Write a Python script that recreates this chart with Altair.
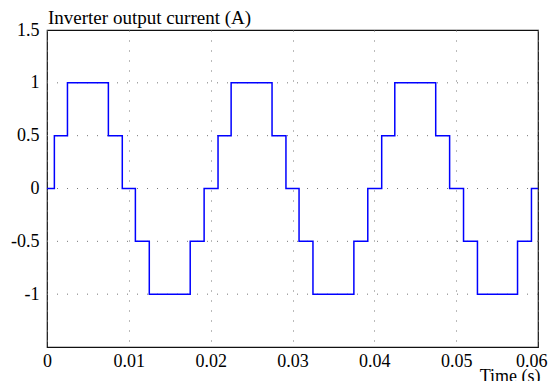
import altair as alt
import pandas as pd

times = [0, 0.0009, 0.0025, 0.0075, 0.0092, 0.0108, 0.0125, 0.0175, 0.0192,
         0.0209, 0.0225, 0.0275, 0.0292, 0.0308, 0.0325, 0.0375, 0.0392,
         0.0409, 0.0425, 0.0475, 0.0492, 0.0509, 0.0526, 0.0575, 0.0592, 0.06]
current = [0, 0.5, 1, 0.5, 0, -0.5, -1, -0.5, 0,
           0.5, 1, 0.5, 0, -0.5, -1, -0.5, 0,
           0.5, 1, 0.5, 0, -0.5, -1, -0.5, 0, 0]
x_ticks = [0, 0.01, 0.02, 0.03, 0.04, 0.05, 0.06]
y_ticks = [-1, -0.5, 0, 0.5, 1, 1.5]
y_grid = [-1, -0.5, 0, 0.5, 1]

df = pd.DataFrame({"t": times, "i": current})
FONT = "'Liberation Serif', 'Times New Roman', Times, serif"
last_test = "datum.value >= 0.0599"

line = alt.Chart(df).mark_line(
    interpolate="step-after", color="#0000ff", strokeWidth=1.5, clip=True
).encode(
    x=alt.X("t:Q", scale=alt.Scale(domain=[0, 0.06], nice=False, zero=False),
            axis=alt.Axis(values=x_ticks, labelExpr="toString(datum.value)",
                          grid=True, gridDash=[1, 9], gridColor="#777777",
                          gridWidth=1, ticks=False, domain=False,
                          labelPadding=5, labelFont=FONT, labelFontSize=18,
                          labelColor="black", labelFlush=False,
                          labelAlign={"condition": {"test": last_test, "value": "right"},
                                      "value": "center"},
                          labelOffset={"condition": {"test": last_test, "value": 9},
                                       "value": 0},
                          title="Time (s)", titleFont=FONT, titleFontSize=18,
                          titleFontWeight="normal", titleColor="black",
                          titleAnchor="end", titleAlign="right",
                          titleBaseline="alphabetic", titleX=493, titleY=34)),
    y=alt.Y("i:Q", scale=alt.Scale(domain=[-1.5, 1.5], nice=False, zero=False),
            axis=alt.Axis(values=y_ticks, labelExpr="toString(datum.value)",
                          grid=False, ticks=False, domain=False,
                          labelPadding=8, labelFont=FONT, labelFontSize=18,
                          labelColor="black", labelFlush=False,
                          title="Inverter output current (A)",
                          titleFont=FONT, titleFontSize=19,
                          titleFontWeight="normal", titleColor="black",
                          titleAngle=0, titleAlign="left",
                          titleBaseline="alphabetic", titleX=0.5, titleY=-7)),
)

grid_df = pd.DataFrame({"g": y_grid})
hgrid = alt.Chart(grid_df).mark_rule(
    strokeDash=[1, 9], color="#777777", strokeWidth=1
).encode(y=alt.Y("g:Q"))

chart = alt.layer(hgrid, line).properties(
    width=491, height=317,
    autosize=alt.AutoSizeParams(type="none"),
    padding={"left": 39, "top": 22, "right": 10, "bottom": 34},
).configure_view(stroke="#111111", strokeWidth=1.2)

chart.save("out.html", embed_options={"renderer": "svg", "actions": False})
